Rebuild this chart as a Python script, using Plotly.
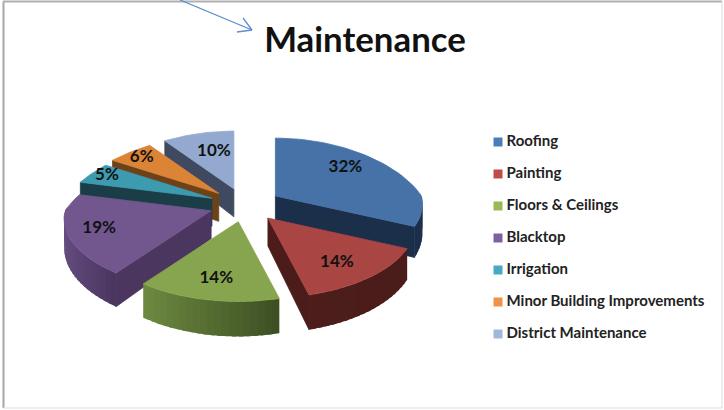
import math
import plotly.graph_objects as go

# ---- data ----
categories = ["Roofing", "Painting", "Floors & Ceilings", "Blacktop", "Irrigation",
              "Minor Building Improvements", "District Maintenance"]
shares = [32, 14, 14, 19, 5, 6, 10]
title_text = "Maintenance"

# ---- styles ----
top_colors = ["#4672A8", "#A94543", "#87A54E", "#72578F", "#3D9BB0", "#DC8436", "#93A9D0"]
wall_left = ["#1B2E4A", "#4C1D1B", "#6E8B41", "#634C80", "#1A3D47", "#6E4219", "#3F4A60"]
wall_right = ["#1B2E4A", "#4A1C1A", "#3E5023", "#4B3660", "#1A3D47", "#6E4219", "#3F4A60"]
swatch_colors = ["#4A7EBB", "#BE4B48", "#98B954", "#7D60A0", "#46AAC5", "#F0924A", "#A0B8DC"]
draw_order = [6, 5, 4, 0, 3, 1, 2]
label_offsets = [(70, -28), (69, 45), (-22, 57), (-112, 18), (-105, -23), (-77, -36), (-20, -37)]

CX, CY = 245, 205
EX, EY = 36, 17
RX, RY = 146, 67
KX_BACK, KX_FRONT, KY = 0.3, 0.12, 0.16
DEPTH = 28
FONT = "Lato"


def hex2rgb(c):
    return [int(c[i:i + 2], 16) for i in (1, 3, 5)]


def lerp(a, b, t):
    ca, cb = hex2rgb(a), hex2rgb(b)
    return "rgb(%d,%d,%d)" % tuple(round(ca[i] + (cb[i] - ca[i]) * t) for i in range(3))


def depth(v):
    return DEPTH * (1 - 0.25 * v)


def project(apex, u, v):
    kx = KX_BACK if v > 0 else KX_FRONT
    return (apex[0] + RX * u / (1 + kx * v), apex[1] - RY * v / (1 + KY * v))


def poly(xs, ys, color, width=0.8):
    return go.Scatter(x=xs + xs[:1], y=ys + ys[:1], mode="lines", fill="toself", fillcolor=color,
                      line=dict(color=color, width=width), hoverinfo="skip", showlegend=False)


fig = go.Figure()

# angular spans from the values
total = sum(shares)
starts, ends = [], []
acc = 0
for s in shares:
    starts.append(acc / total * 2 * math.pi)
    acc += s
    ends.append(acc / total * 2 * math.pi)

apexes = []
for a, b in zip(starts, ends):
    m = (a + b) / 2
    apexes.append((CX + EX * math.sin(m), CY - EY * math.cos(m)))

for i in draw_order:
    a, b, apex = starts[i], ends[i], apexes[i]
    # radial walls
    for th, visible in ((a, math.sin(a) < 0), (b, math.sin(b) > 0)):
        if visible:
            u, v = math.sin(th), math.cos(th)
            p = project(apex, u, v)
            col = lerp(wall_left[i], wall_right[i], 0.5)
            if i == 3:
                col = wall_right[i]
            fig.add_trace(poly([apex[0], p[0], p[0], apex[0]],
                               [apex[1], p[1], p[1] + depth(v), apex[1] + depth(0)], col))
    # outer wall strips, each overlapping the next so no seams show
    n = max(2, int((b - a) / (2 * math.pi) * 150))
    step = (b - a) / n
    xs_all = [project(apex, math.sin(a + step * k), math.cos(a + step * k))[0] for k in range(n + 1)]
    xmin, xmax = min(xs_all), max(xs_all)
    visible_k = [k for k in range(n) if math.cos(a + step * (k + 0.5)) < 0.02]
    for k in visible_k:
        t0 = a + step * k
        t1 = min(a + step * (k + 1.6), b)
        if k == visible_k[-1]:
            t1 = a + step * (k + 1)
        ta = [t0 + (t1 - t0) * j / 3 for j in range(4)]
        top = [project(apex, math.sin(t), math.cos(t)) for t in ta]
        xs = [p[0] for p in top] + [p[0] for p in reversed(top)]
        ys = [p[1] for p in top] + [p[1] + depth(math.cos(t)) for p, t in zip(reversed(top), reversed(ta))]
        t = (top[0][0] - xmin) / max(1, xmax - xmin)
        fig.add_trace(poly(xs, ys, lerp(wall_left[i], wall_right[i], t), width=0))
    # top face
    m = 40
    pts = [project(apex, math.sin(a + (b - a) * k / m), math.cos(a + (b - a) * k / m)) for k in range(m + 1)]
    fig.add_trace(poly([apex[0]] + [p[0] for p in pts], [apex[1]] + [p[1] for p in pts], top_colors[i]))

# percent labels
fig.add_trace(go.Scatter(
    x=[apexes[i][0] + label_offsets[i][0] for i in range(len(shares))],
    y=[apexes[i][1] + label_offsets[i][1] for i in range(len(shares))],
    mode="text", text=[f"<b>{s}%</b>" for s in shares], textposition="middle center",
    textfont=dict(family=FONT, size=17, color="#111111"), hoverinfo="skip", showlegend=False))

# key
rows = list(range(len(categories)))
fig.add_trace(go.Scatter(
    x=[498] * len(rows), y=[142 + 32 * r for r in rows], mode="markers+text",
    marker=dict(symbol="square", size=9, color=swatch_colors),
    text=["&#8201;<b>" + c + "</b>" for c in categories], textposition="middle right",
    textfont=dict(family=FONT, size=15, color="#222222"), hoverinfo="skip", showlegend=False))

frame = [(3.5, 1.5, 3.5, 408, "#a6a6a6", 2), (3, 1.5, 722, 1.5, "#b0b0b0", 2),
         (722, 1, 722, 408, "#dddddd", 1), (3, 408, 722, 408, "#dddddd", 1)]
arrow = [(180, 0, 252, 30), (243, 18, 252, 30), (237, 32, 252, 30)]
shapes = [dict(type="line", xref="x", yref="y", x0=a, y0=b, x1=c, y1=d, line=dict(color=col, width=w))
          for a, b, c, d, col, w in frame]
shapes += [dict(type="line", xref="x", yref="y", x0=a, y0=b, x1=c, y1=d, line=dict(color="#5B8FCF", width=1.3))
           for a, b, c, d in arrow]

fig.update_layout(
    width=724, height=410, margin=dict(l=0, r=0, t=0, b=0),
    paper_bgcolor="white", plot_bgcolor="white", showlegend=False, shapes=shapes,
    title=dict(text=f"<b>{title_text}</b>", x=365 / 724, xanchor="center", y=1 - 40 / 410, yanchor="middle",
               font=dict(family=FONT, size=34.8, color="#111111")),
    xaxis=dict(range=[0, 724], visible=False, fixedrange=True),
    yaxis=dict(range=[410, 0], visible=False, fixedrange=True),
)
fig.write_html("out.html", config=dict(displayModeBar=False),
               post_script="document.body.style.margin='0';document.body.style.overflow='hidden';")
